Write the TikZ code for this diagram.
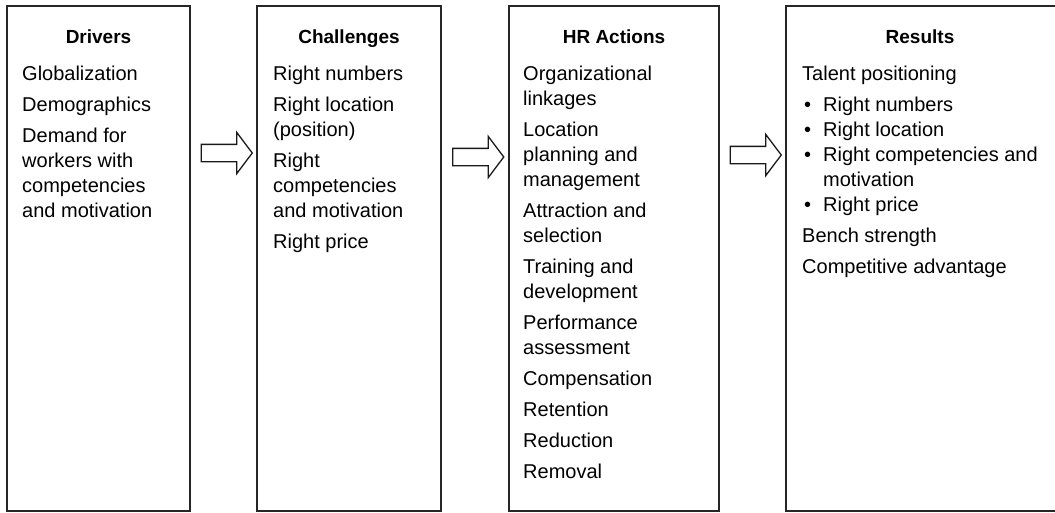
\documentclass[tikz,border=0pt]{standalone}
\usepackage{fontspec}
\setmainfont{Liberation Sans}
\usetikzlibrary{shapes.arrows,calc}
\tikzset{
  panel/.style={draw=black!85, line width=1.3pt, rectangle, inner sep=0pt, outer sep=0pt, minimum height=505pt, anchor=north west},
  paneltitle/.style={anchor=base, font=\fontsize{19}{23}\selectfont\bfseries, inner sep=0pt},
  body/.style={anchor=north west, align=left, inner sep=0pt, font=\fontsize{20}{25}\selectfont},
  blockarrow/.style={single arrow, draw=black!90, line width=1.3pt, inner xsep=0pt, inner ysep=8pt,
    single arrow head extend=12pt, single arrow tip angle=106, minimum height=51pt, fill=white}
}
\begin{document}
\begin{tikzpicture}[x=1pt,y=-1pt]
\useasboundingbox (0,0) rectangle (1055,512);
\begin{scope}
\clip (0,0) rectangle (1055,512);
\node[panel, minimum width=183pt] (b1) at (7,6) {};
\node[panel, minimum width=184pt] (b2) at (257,6) {};
\node[panel, minimum width=210pt] (b3) at (509,6) {};
\node[panel, minimum width=275pt] (b4) at (786,6) {};
\end{scope}

\node[paneltitle] (t1) at (b1.north |- 0,43) {Drivers};
\node[paneltitle] (t2) at (b2.north |- 0,43) {Challenges};
\node[paneltitle] (t3) at (b3.north |- 0,43) {HR Actions};
\node[paneltitle] (t4) at (920,43) {Results};

\node[body] (x1) at (22,66) {Globalization\\[6pt]Demographics\\[6pt]Demand for\\workers with\\competencies\\and motivation};
\node[body] (x2) at (273,66) {Right numbers\\[6pt]Right location\\(position)\\[6pt]Right\\competencies\\and motivation\\[6pt]Right price};
\node[body] (x3) at (523,66) {Organizational\\linkages\\[6pt]Location\\planning and\\management\\[6pt]Attraction and\\selection\\[6pt]Training and\\development\\[6pt]Performance\\assessment\\[6pt]Compensation\\[6pt]Retention\\[6pt]Reduction\\[6pt]Removal};
\node[body] (x4) at (802,66) {Talent positioning\\[6pt]%
\makebox[21pt][l]{\hspace*{2pt}\textbullet}Right numbers\\
\makebox[21pt][l]{\hspace*{2pt}\textbullet}Right location\\
\makebox[21pt][l]{\hspace*{2pt}\textbullet}Right competencies and\\
\hspace*{21pt}motivation\\
\makebox[21pt][l]{\hspace*{2pt}\textbullet}Right price\\[6pt]
Bench strength\\[6pt]Competitive advantage};

\coordinate (m1) at ($(b1.east)!0.5!(b2.west)$);
\coordinate (m2) at ($(b2.east)!0.5!(b3.west)$);
\coordinate (m3) at ($(b3.east)!0.5!(b4.west)$);
\node[blockarrow] (a1) at (m1 |- 0,153) {};
\node[blockarrow] (a2) at (m2 |- 0,157) {};
\node[blockarrow] (a3) at (m3 |- 0,155) {};
\end{tikzpicture}
\end{document}
